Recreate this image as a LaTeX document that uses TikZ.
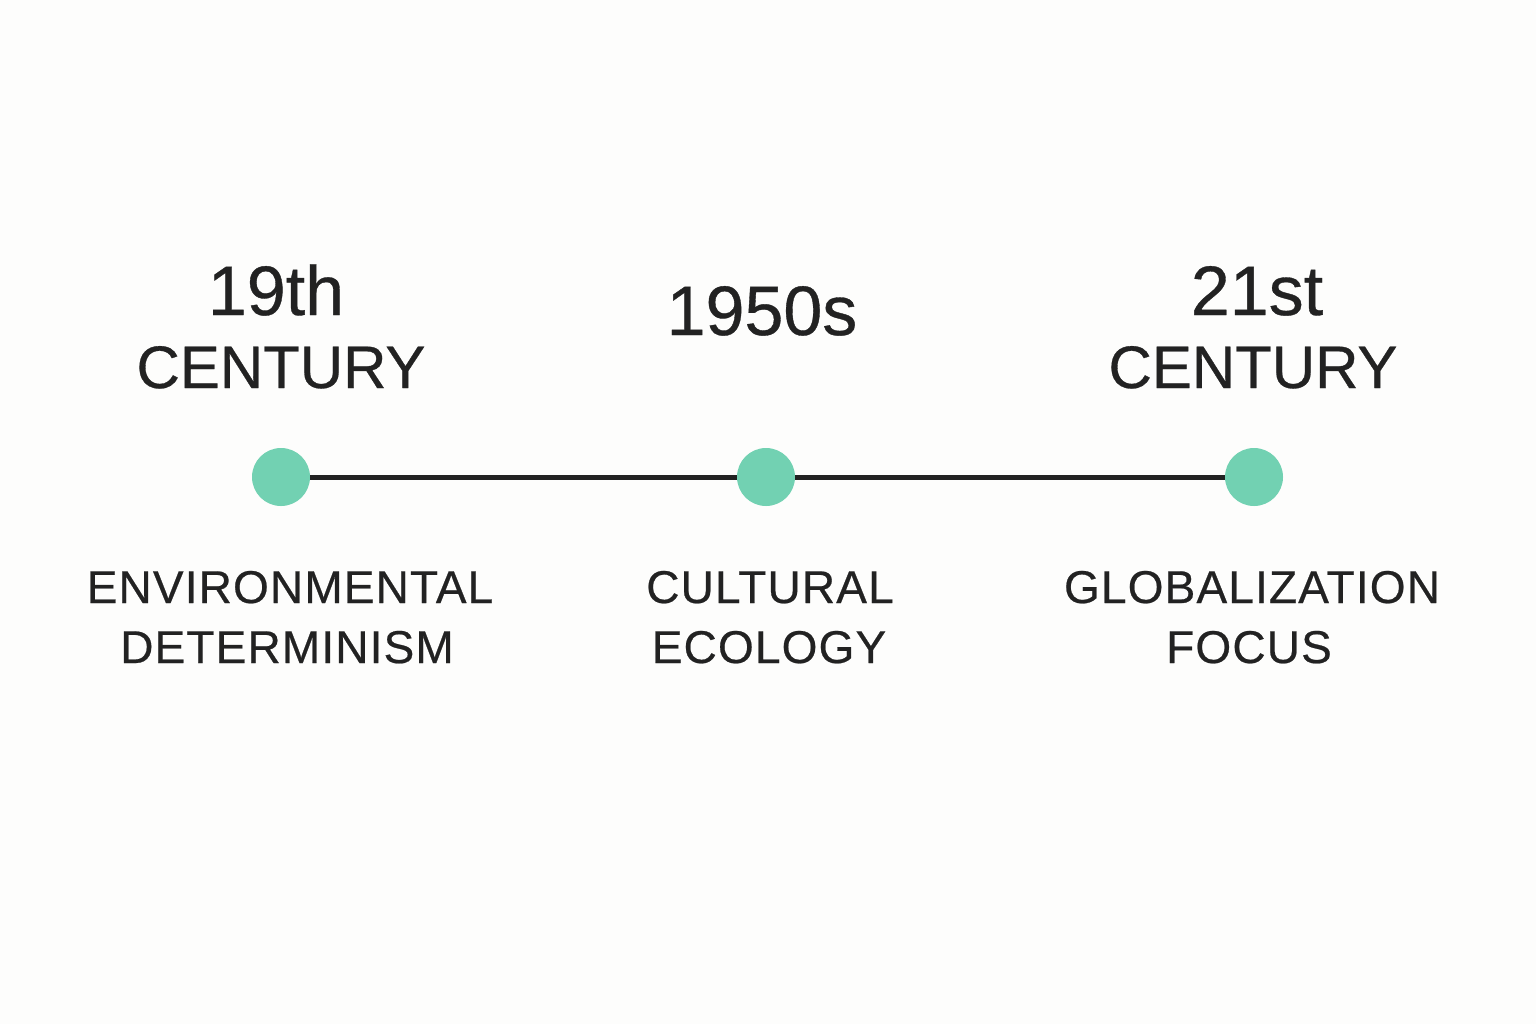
\documentclass[tikz,border=0pt]{standalone}
\usepackage{fontspec}
\setmainfont{Liberation Sans}[FakeBold=0.5]
\newfontfamily\ideafont{Liberation Sans}[FakeBold=0.5,LetterSpace=2.5]
\usepackage{tikz}

\definecolor{mint}{HTML}{72D1B2}
\definecolor{ink}{HTML}{222222}
\definecolor{paper}{HTML}{FDFDFC}

\begin{document}
\begin{tikzpicture}[x=0.5pt,y=-0.5pt,
  dot/.style={circle,fill=mint,inner sep=0pt,minimum size=29pt},
  era/.style={anchor=base,text=ink,inner sep=0pt,font=\fontsize{35}{40}\selectfont},
  century/.style={anchor=base,text=ink,inner sep=0pt,font=\fontsize{30}{36}\selectfont},
  idea/.style={anchor=base,text=ink,inner sep=0pt,font=\ideafont\fontsize{23}{28}\selectfont}]
\fill[paper] (0,0) rectangle (1536,1024);
\useasboundingbox (0,0) rectangle (1536,1024);

% the dots
\node[dot] (d19) at (281,477) {};
\node[dot] (d1950) at (766,477) {};
\node[dot] (d21) at (1254,477) {};

% the line
\draw[ink,line width=2.5pt] (d19) -- (d1950) -- (d21);

% years
\node[era] (y19) at (276,315) {19th};
\node[century] (c19) at (281,388) {CENTURY};
\node[era] (y1950) at (762,335) {1950s};
\node[era] (y21) at (1257,315) {21st};
\node[century] (c21) at (1253,388) {CENTURY};

% ideas
\node[idea] (env) at (290,603) {ENVIRONMENTAL};
\node[idea] (det) at (287,663) {DETERMINISM};
\node[idea] (cult) at (770,603) {CULTURAL};
\node[idea] (eco) at (769,663) {ECOLOGY};
\node[idea] (glob) at (1252,603) {GLOBALIZATION};
\node[idea] (foc) at (1249,663) {FOCUS};
\end{tikzpicture}
\end{document}
